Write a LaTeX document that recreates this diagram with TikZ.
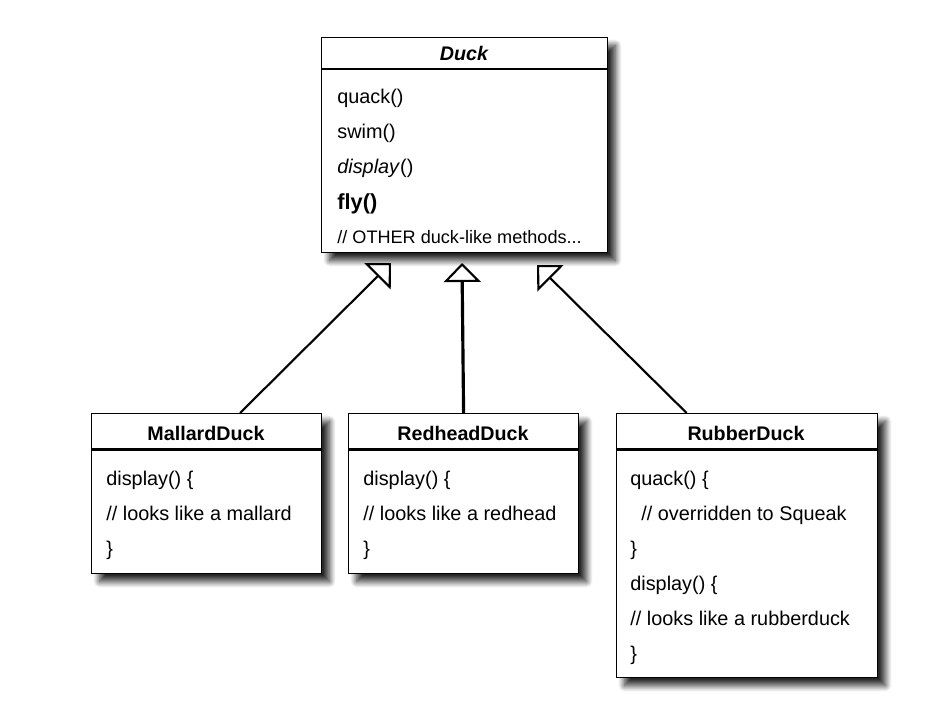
\documentclass[tikz,border=0pt]{standalone}
\usepackage{fontspec}
\setmainfont{Liberation Sans}
\usetikzlibrary{arrows.meta}
\usetikzlibrary{shadows.blur}

\tikzset{
  classbox/.style={draw=black, line width=0.7pt, fill=white, rectangle, inner sep=0pt, anchor=north west,
    blur shadow={shadow xshift=4.5pt, shadow yshift=-4.5pt, shadow blur radius=3.5pt, shadow blur steps=12, shadow opacity=85}},
  classname/.style={font=\fontsize{11.2}{13}\selectfont\bfseries, anchor=base, inner sep=0pt},
  member/.style={font=\fontsize{11.3}{13}\selectfont, anchor=base west, inner sep=0pt},
  inherit/.style={line width=1.2pt, -{Triangle[open, length=0.38cm, width=0.74cm, line width=1.2pt]}},
}

\begin{document}
\begin{tikzpicture}[x=0.02cm, y=-0.02cm]
	\useasboundingbox (0,0) rectangle (930,716);
	\node[classbox, minimum width=5.72cm, minimum height=4.3cm] (duck) at (321,37) {};
	\draw[line width=0.7pt] ([yshift=-0.64cm]duck.north west) -- ([yshift=-0.64cm]duck.north east);
	\node[classname, font=\fontsize{11.2}{13}\selectfont\bfseries\itshape] (duckname) at (464,61) {Duck};
	\node[member] (quack) at (337,104) {quack()};
	\node[member] (swim) at (337,139) {swim()};
	\node[member] (display) at (337,174) {\textit{display}()};
	\node[member, font=\fontsize{12.4}{14}\selectfont\bfseries] (fly) at (337,210) {fly()};
	\node[member, font=\fontsize{10.3}{12}\selectfont] (other) at (337,244) {// OTHER duck-like methods...};

	\node[classbox, minimum width=4.6cm, minimum height=3.2cm] (mallard) at (91,413) {};
	\draw[line width=1.2pt] ([yshift=-0.73cm]mallard.north west) -- ([yshift=-0.73cm]mallard.north east);
	\node[classname] (mallardname) at (206,440) {MallardDuck};
	\foreach \t [count=\i] in {display() \{, // looks like a mallard, \}}
		\node[member] (mallard\i) at (106,450+35*\i) {\t};

	\node[classbox, minimum width=4.6cm, minimum height=3.2cm] (redhead) at (348,413) {};
	\draw[line width=1.2pt] ([yshift=-0.73cm]redhead.north west) -- ([yshift=-0.73cm]redhead.north east);
	\node[classname] (redheadname) at (463,440) {RedheadDuck};
	\foreach \t [count=\i] in {display() \{, // looks like a redhead, \}}
		\node[member] (redhead\i) at (363,450+35*\i) {\t};

	\node[classbox, minimum width=5.22cm, minimum height=5.28cm] (rubber) at (616,413) {};
	\draw[line width=1.2pt] ([yshift=-0.73cm]rubber.north west) -- ([yshift=-0.73cm]rubber.north east);
	\node[classname] (rubbername) at (746,440) {RubberDuck};
	\foreach \t [count=\i] in {quack() \{, \hspace*{0.22cm}// overridden to Squeak, \}, display() \{, // looks like a rubberduck, \}}
		\node[member] (rubber\i) at (630,450+35*\i) {\t};

	\coordinate (mallardtip) at (391,263);
	\coordinate (redheadtip) at (462,263);
	\coordinate (rubbertip) at (537,265);
	\draw[inherit] ([xshift=0.67cm]mallard.north) -- (mallardtip);
	\draw[inherit, line width=1.8pt] (redhead.north) -- (redheadtip);
	\draw[inherit] ([xshift=-1.21cm]rubber.north) -- (rubbertip);
\end{tikzpicture}
\end{document}
